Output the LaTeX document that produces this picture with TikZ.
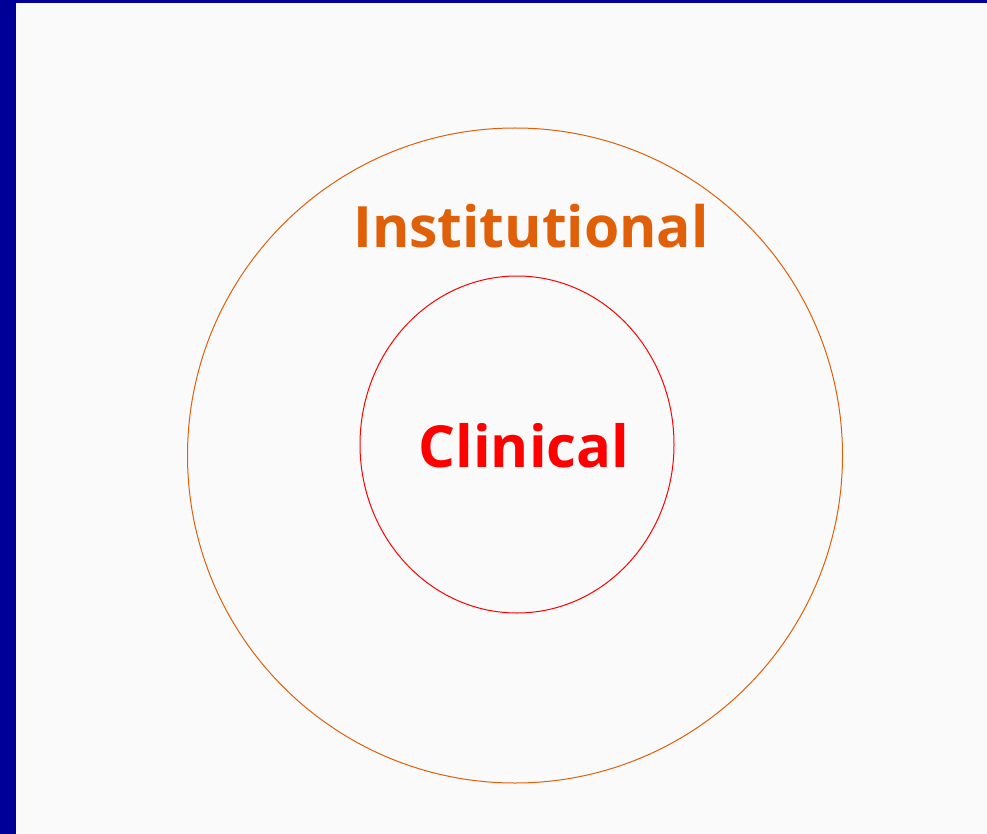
\documentclass[tikz,border=0pt]{standalone}
\usepackage{fontspec}
\setmainfont{Open Sans}
\usetikzlibrary{shapes.geometric}
\definecolor{frameblue}{HTML}{000099}
\definecolor{paper}{HTML}{FAFAFA}
\definecolor{instorange}{HTML}{E0600A}
\definecolor{clinred}{HTML}{FF0000}
\begin{document}
\begin{tikzpicture}[x=1pt,y=-1pt,
  ringlabel/.style={font=\fontsize{58}{60}\selectfont\bfseries, inner sep=0pt},
  ring/.style={line width=1pt, inner sep=0pt}]
  % slide frame and paper
  \fill[frameblue] (0,0) rectangle (987,834);
  \fill[paper] (15.5,3) rectangle (987,834);
  \useasboundingbox (0,0) rectangle (987,834);
  % outer ring
  \node[ring, draw=instorange, circle, minimum size=655pt] (outer) at (515,455.5) {};
  % inner ring
  \node[ring, draw=clinred, ellipse, minimum width=314pt, minimum height=337pt] (inner) at (517,444.5) {};
  \node[ringlabel, text=instorange, font=\fontsize{57}{60}\selectfont\bfseries] (inst) at (531,226) {Institutional};
  \node[ringlabel, text=clinred] (clin) at (524,446) {Clinical};
\end{tikzpicture}
\end{document}
